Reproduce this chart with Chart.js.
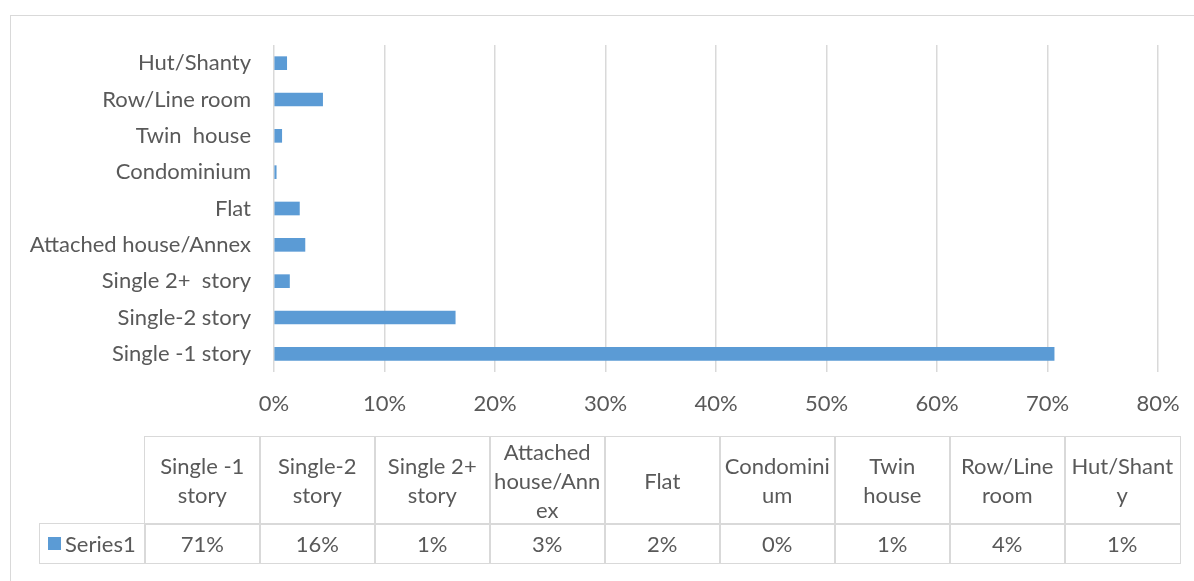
<!DOCTYPE html>
<html>
<head>
<meta charset="utf-8">
<script src="https://cdn.jsdelivr.net/npm/chart.js@4/dist/chart.umd.min.js"></script>
<style>
  html, body { margin: 0; padding: 0; background: #fff; overflow: hidden; }
  #wrap { position: relative; width: 1194px; height: 581px; overflow: hidden; font-family: Lato, "Open Sans", sans-serif; }
  #frame { position: absolute; left: 10px; top: 15px; width: 1300px; height: 700px; border-left: 1.5px solid #d9d9d9; border-top: 1.5px solid #d9d9d9; }
  canvas { position: absolute; left: 0; top: 0; }
  .cell { position: absolute; box-sizing: border-box; display: flex; align-items: center; justify-content: center; text-align: center;
          color: #595959; font-size: 22px; line-height: 29px; overflow-wrap: anywhere; white-space: pre-wrap; padding: 0 3px; }
  .b { border: 1.5px solid #d9d9d9; }
</style>
</head>
<body>
<div id="wrap">
  <div id="frame"></div>
  <canvas id="c" width="1194" height="581"></canvas>
  <div id="table"></div>
</div>
<script>
// ---- data ----
const categories = ['Single -1 story', 'Single-2 story', 'Single 2+  story', 'Attached house/Annex', 'Flat', 'Condominium', 'Twin  house', 'Row/Line room', 'Hut/Shanty'];
const series1 = [70.6, 16.4, 1.4, 2.8, 2.3, 0.2, 0.7, 4.4, 1.15];
const seriesName = 'Series1';
const xTicks = [0, 10, 20, 30, 40, 50, 60, 70, 80];

const BAR = '#5B9BD5';
const TXT = '#595959';
const GRID = '#d9d9d9';
const FONT = 'Lato, "Open Sans", sans-serif';

new Chart(document.getElementById('c'), {
  type: 'bar',
  data: {
    labels: categories,
    datasets: [{ label: seriesName, data: series1, backgroundColor: BAR, borderWidth: 0, barThickness: 13 }]
  },
  options: {
    indexAxis: 'y',
    responsive: false,
    animation: false,
    layout: { padding: { left: 0, top: 45, right: 36, bottom: 159 } },
    plugins: { legend: { display: false }, tooltip: { enabled: false } },
    scales: {
      x: {
        min: xTicks[0], max: xTicks[xTicks.length - 1],
        afterBuildTicks: (s) => { s.ticks = xTicks.map(v => ({ value: v })); },
        afterFit: (s) => { s.height = 50; s.paddingLeft = 0; s.paddingRight = 0; },
        grid: { color: GRID, lineWidth: 1.5, drawTicks: false },
        border: { display: false },
        ticks: { color: TXT, font: { family: FONT, size: 22 }, padding: 19, callback: (v) => v + '%' }
      },
      y: {
        reverse: true,
        afterFit: (s) => { s.width = 274; s.paddingTop = 0; s.paddingBottom = 0; },
        grid: { display: false, drawTicks: false },
        border: { display: false },
        ticks: { color: TXT, font: { family: FONT, size: 22 }, padding: 23 }
      }
    }
  }
});

// ---- data table below the chart ----
const tbl = document.getElementById('table');
const colX0 = 144, colW = 115, headTop = 436, headH = 87, rowH = 39, legendX = 39;
function cell(x, y, w, h, text, cls) {
  const d = document.createElement('div');
  d.className = 'cell' + (cls ? ' ' + cls : '');
  d.style.left = x + 'px'; d.style.top = y + 'px'; d.style.width = w + 'px'; d.style.height = h + 'px';
  if (text !== null) d.textContent = text;
  tbl.appendChild(d);
  return d;
}
categories.forEach((h, i) => {
  cell(colX0 + i * colW, headTop, colW + 1.5, headH + 1.5, h, 'b');
  cell(colX0 + i * colW, headTop + headH, colW + 1.5, rowH + 1.5, Math.round(series1[i]) + '%', 'b');
});
const lg = cell(legendX, headTop + headH, colX0 - legendX + 1.5, rowH + 1.5, null, 'b');
lg.style.justifyContent = 'flex-start';
lg.style.paddingLeft = '8px';
const sw = document.createElement('span');
sw.style.cssText = 'display:inline-block;width:13px;height:13px;margin-right:4px;background:' + BAR;
lg.appendChild(sw);
lg.appendChild(document.createTextNode(seriesName));
</script>
</body>
</html>
